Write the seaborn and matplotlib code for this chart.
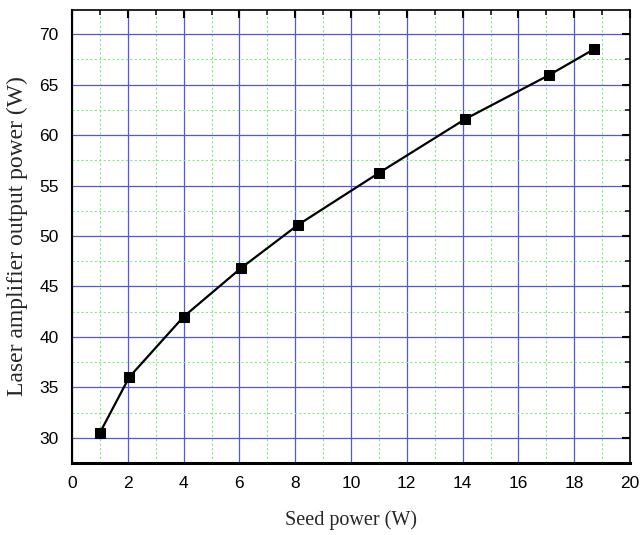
import matplotlib
matplotlib.use("Agg")
import matplotlib.pyplot as plt
import seaborn as sns
import pandas as pd
from matplotlib.ticker import MultipleLocator

seed_power = [1.0, 2.05, 4.0, 6.05, 8.1, 11.0, 14.1, 17.1, 18.7]
output_power = [30.5, 36.0, 42.0, 46.8, 51.1, 56.25, 61.6, 65.95, 68.5]

df = pd.DataFrame({"seed": seed_power, "out": output_power})

sns.set_style("white")
fig = plt.figure(figsize=(6.42, 5.35), dpi=100)
ax = fig.add_axes([72/642, (535-463)/535, (630-72)/642, (463-10)/535])

sns.lineplot(data=df, x="seed", y="out", ax=ax, color="black", linewidth=1.6,
             marker="s", markersize=7, markeredgecolor="black", markerfacecolor="black",
             zorder=5)

ax.set_xlim(0, 20)
ax.set_ylim(27.5, 72.4)
ax.xaxis.set_major_locator(MultipleLocator(2))
ax.xaxis.set_minor_locator(MultipleLocator(1))
ax.yaxis.set_major_locator(MultipleLocator(5))
ax.yaxis.set_minor_locator(MultipleLocator(2.5))

ax.grid(True, which="major", color="#5555dd", linewidth=0.9, linestyle="-")
ax.grid(True, which="minor", color="#88e888", linewidth=0.8, linestyle=(0, (2, 2)))
ax.set_axisbelow(True)

for s in ax.spines.values():
    s.set_color("black")
    s.set_linewidth(1.2)
ax.spines["bottom"].set_linewidth(2.2)
ax.spines["left"].set_linewidth(1.5)

ax.tick_params(axis="both", which="major", direction="out", length=6, width=1.5,
               labelsize=12.5, colors="black")
ax.tick_params(axis="both", which="minor", direction="out", length=3.5, width=1.3)
ax.tick_params(top=True, right=True, which="both")
# inward ticks on top/right
for t in ax.xaxis.get_major_ticks() + ax.xaxis.get_minor_ticks():
    t.tick2line.set_marker(3)  # TICKDOWN
for t in ax.yaxis.get_major_ticks() + ax.yaxis.get_minor_ticks():
    t.tick2line.set_marker(0)  # TICKLEFT

for lab in ax.get_xticklabels() + ax.get_yticklabels():
    lab.set_fontfamily("Liberation Sans")

ax.set_xlabel("Seed power (W)", fontfamily="Liberation Serif", fontsize=14.5, labelpad=14)
ax.set_ylabel("Laser amplifier output power (W)", fontfamily="Liberation Serif", fontsize=17, labelpad=8)

fig.savefig("out.png", dpi=100)
